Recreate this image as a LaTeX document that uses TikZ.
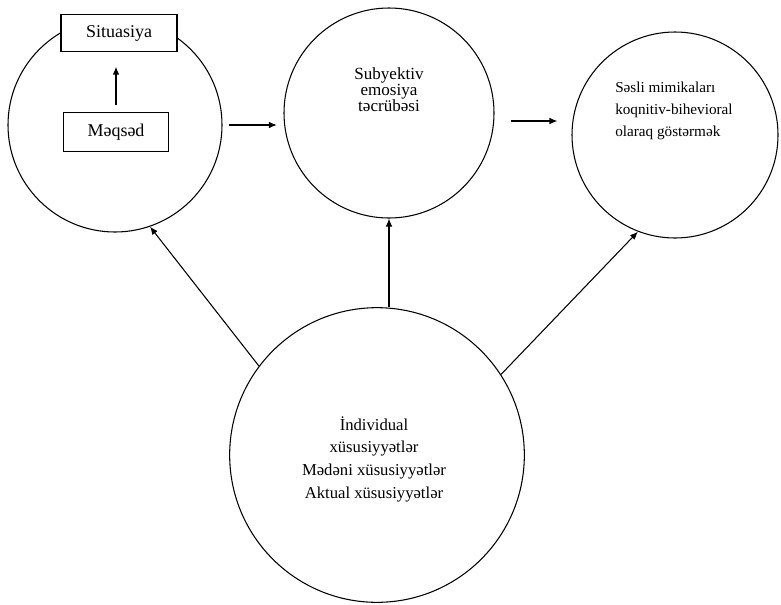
\documentclass[tikz,border=0pt]{standalone}
\usepackage{fontspec}
\setmainfont{Liberation Serif}
\usetikzlibrary{arrows.meta}

\begin{document}
\begin{tikzpicture}[x=0.75pt, y=-0.75pt,
  ring/.style={draw, circle, line width=0.8pt, inner sep=0pt},
  tag/.style={draw, fill=white, line width=0.8pt, inner sep=0pt, font=\fontsize{13.5}{15}\selectfont},
  txt/.style={align=center, inner sep=0pt},
  arr/.style={-{Latex[length=6pt, width=5pt]}, line width=0.8pt}]
  \useasboundingbox (0,0) rectangle (781,604);

  % Top row of circles
  \node[ring, minimum size=160.5pt] (lc) at (115,125) {};
  \node[ring, minimum size=157.5pt] (mc) at (389,113) {};
  \node[ring, minimum size=154.5pt] (rc) at (675,135) {};
  % Bottom circle
  \node[ring, minimum size=221pt] (bc) at (377,455) {};

  % Boxes inside the left circle
  \node[tag, minimum width=87pt, minimum height=27.75pt] (sit) at (119,33) {Situasiya};
  \node[tag, minimum width=78.75pt, minimum height=29.25pt] (maq) at (116,132) {Məqsəd};
  \draw[arr, shorten <=5pt, shorten >=11pt] (maq.north) -- (maq.north |- sit.south);

  % Texts of the circles
  \node[txt, font=\fontsize{12.8}{11.5}\selectfont] (mctext) at (389,90)
    {Subyektiv\\emosiya\\təcrübəsi};
  \node[txt, align=left, anchor=west, font=\fontsize{11.4}{16.5}\selectfont] (rctext) at (615,111)
    {Səsli mimikaları\\koqnitiv-bihevioral\\olaraq göstərmək};
  \node[txt, font=\fontsize{12.5}{17}\selectfont] (bctext) at (374,459)
    {İndividual\\xüsusiyyətlər\\Mədəni xüsusiyyətlər\\Aktual xüsusiyyətlər};

  % Arrows along the top row
  \draw[arr, shorten <=4.5pt, shorten >=5pt] (lc.east) -- (lc.east -| mc.west);
  \draw[arr, shorten <=12pt, shorten >=10.5pt] ([yshift=-6pt]mc.east) -- ([yshift=-6pt]mc.east -| rc.west);

  % Arrows from the bottom circle
  \draw[arr] (bc.143) -- (lc.-71);
  \draw[arr] (mc.south |- bc.north) -- (mc.south);
  \draw[arr] (bc.33) -- (rc.-111);
\end{tikzpicture}
\end{document}
